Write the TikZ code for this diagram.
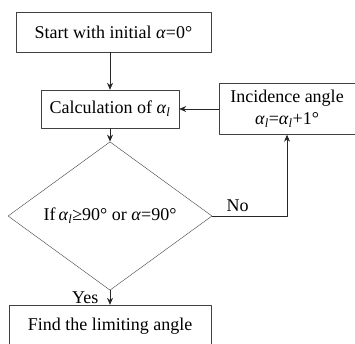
\documentclass[tikz,border=0pt]{standalone}
\usepackage{fontspec}
\setmainfont{Liberation Serif}
\usetikzlibrary{shapes.geometric, arrows.meta}
\newcommand{\alfl}{\textit{α}\textsubscript{\textit{l}}}
\begin{document}
\begin{tikzpicture}[x=1pt, y=-1pt, line join=round, >={Stealth[length=7pt,width=6pt]},
    box/.style={draw=black!75, rectangle, inner sep=0pt, font=\fontsize{18}{22}\selectfont},
    decide/.style={draw=black!75, diamond, inner sep=0pt, font=\fontsize{18}{22}\selectfont},
    flow/.style={->, draw=black!85, line width=0.8pt},
    lbl/.style={font=\fontsize{18}{22}\selectfont}]
    \useasboundingbox (0,0) rectangle (355,343);
    \node[box, minimum width=195, minimum height=40] (start) at (113.5,32) {Start with initial \textit{α}=0°};
    \node[box, minimum width=138, minimum height=38] (calc) at (110,109) {Calculation of \alfl};
    \node[box, minimum width=136, minimum height=51, align=center] (inc) at (287,109) {Incidence angle\\\alfl=\alfl+1°};
    \node[decide, minimum width=204, minimum height=104] (cond) at (110,216) {If\,\alfl≥90° or \textit{α}=90°};
    \node[box, minimum width=202, minimum height=42] (find) at (110,326) {Find the limiting angle};
    % connectors
    \draw[flow] (start.south -| calc.north) -- (calc.north);
    \draw[flow] (calc.south) -- (cond.north);
    \draw[flow] (inc.west) -- (calc.east);
    \draw[flow] (cond.east) -| node[lbl, pos=0.17, above=1pt] (no) {No} (inc.south);
    \draw[flow] (cond.south) -- node[lbl, left=8pt] (yes) {Yes} (find.north);
\end{tikzpicture}
\end{document}
